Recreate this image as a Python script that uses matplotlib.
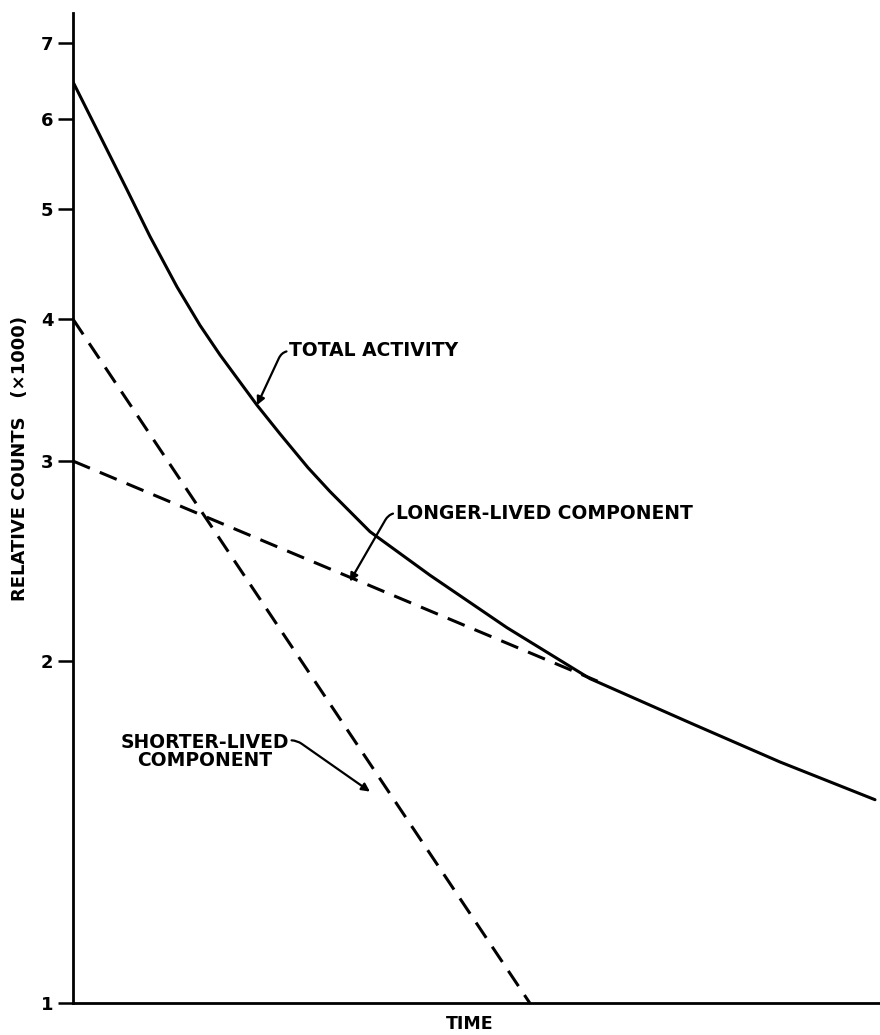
import numpy as np
import matplotlib
matplotlib.use('Agg')
import matplotlib.pyplot as plt
from matplotlib.ticker import FixedLocator, NullLocator

#Plot params
fnt = 13.5
wht = 'bold'
lw = 2.2

#Data (time in arbitrary units, counts in thousands)
total_t = [0.0, 0.335, 0.669, 0.954, 1.289, 1.574, 1.822, 2.28, 2.565, 2.912,
           3.185, 3.68, 4.424, 5.378, 6.406, 7.683, 8.761, 9.938]
total_c = [6.47, 5.80, 5.20, 4.73, 4.27, 3.95, 3.72, 3.36, 3.17, 2.96,
           2.82, 2.60, 2.38, 2.14, 1.93, 1.76, 1.63, 1.51]

short_t = [0.0, 5.66]
short_c = [4.0, 1.0]

long_t = [0.0, 6.5]
long_c = [3.0, 1.92]

yticks = [1, 2, 3, 4, 5, 6, 7]

fig = plt.figure(figsize=(8.8, 10.35), dpi=100)
ax = fig.add_axes([73/880, 32/1035, 807/880, 990/1035])

ax.plot(total_t, total_c, color='black', lw=lw, solid_capstyle='round', solid_joinstyle='round')
ax.plot(short_t, short_c, color='black', lw=lw, dashes=(6, 3.5))
ax.plot(long_t, long_c, color='black', lw=lw, dashes=(6, 3.5))

ax.set_yscale('log')
ax.set_ylim(1, 7.44)
ax.set_xlim(0, 10)
ax.yaxis.set_major_locator(FixedLocator(yticks))
ax.yaxis.set_minor_locator(NullLocator())
ax.set_yticklabels([str(v) for v in yticks], fontsize=13, fontweight=wht)
ax.set_xticks([])
ax.tick_params(axis='y', direction='out', length=11, width=1.8, pad=3)

for s in ['top', 'right']:
    ax.spines[s].set_visible(False)
for s in ['left', 'bottom']:
    ax.spines[s].set_linewidth(2.0)

ax.set_ylabel('RELATIVE COUNTS   (×1000)', fontsize=13, fontweight=wht)
ax.yaxis.set_label_coords(-0.055, 0.55)
ax.set_xlabel('TIME', fontsize=12.5, fontweight=wht)
ax.xaxis.set_label_coords(0.492, -0.012)

#Leader labels
arrow = dict(arrowstyle='-|>', color='black', lw=1.6, mutation_scale=12,
             shrinkA=0, shrinkB=0)
ax.annotate('TOTAL ACTIVITY', xy=(2.28, 3.36), xytext=(2.68, 3.75),
            fontsize=fnt, fontweight=wht, va='center', ha='left',
            arrowprops=dict(arrow, connectionstyle='angle,angleA=180,angleB=65,rad=8'))
ax.annotate('LONGER-LIVED COMPONENT', xy=(3.43, 2.35), xytext=(4.0, 2.7),
            fontsize=fnt, fontweight=wht, va='center', ha='left',
            arrowprops=dict(arrow, connectionstyle='angle,angleA=180,angleB=60,rad=8'))
ax.annotate('SHORTER-LIVED\nCOMPONENT', xy=(3.68, 1.535), xytext=(1.63, 1.665),
            fontsize=fnt, fontweight=wht, va='center', ha='center',
            linespacing=0.95,
            arrowprops=dict(arrow, connectionstyle='angle,angleA=180,angleB=145,rad=6',
                            relpos=(1.0, 0.8)))

plt.savefig('out.png', dpi=100)
